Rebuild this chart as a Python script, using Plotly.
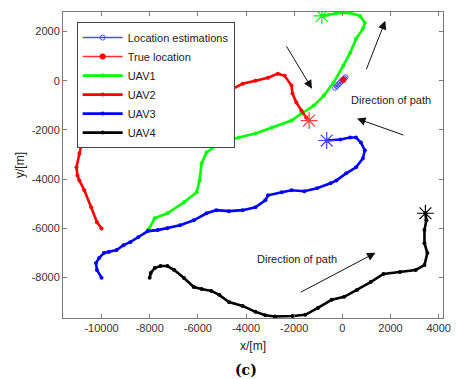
import plotly.graph_objects as go

# UAV trajectories (metres), start point first, final position last
uav1_x = [-8050, -7790, -7265, -6575, -6050, -5930, -5845, -5640, -5115, -4300, -3610, -2920,
          -2110, -1700, -1180, -770, -365, 40, 325, 570, 850, 935, 730, 325, -245, -850]
uav1_y = [-6050, -5590, -5385, -4940, -4535, -4050, -3360, -2915, -2550, -2310, -2145, -1900,
          -1620, -1335, -1010, -605, -80, 610, 1130, 1700, 2105, 2350, 2630, 2760, 2740, 2630]

uav2_x = [-10000, -10190, -10430, -10715, -10920, -11000, -11040, -10920, -10800, -10630, -10390,
          -10190, -9700, -8890, -7670, -6450, -5440, -4545, -4140, -3610, -3085, -2680, -2395,
          -2110, -2070, -1910, -1700, -1500, -1380]
uav2_y = [-6000, -5750, -5140, -4450, -4050, -3850, -3520, -2955, -2430, -2145, -1940,
          -1820, -1540, -1130, -810, -610, -445, -325, -120, 0, 120, 285, 200,
          -200, -525, -890, -1215, -1500, -1620]

uav3_x = [-10000, -10190, -10230, -10100, -9900, -9700, -9375, -9090, -8810, -8480, -8080, -7670,
          -7265, -6740, -6170, -5640, -5235, -4710, -4140, -3610, -3200, -3085, -2515, -2110,
          -1580, -1055, -490, -245, 160, 570, 850, 935, 770, 570, 325, -80, -650]
uav3_y = [-8000, -7690, -7410, -7200, -7000, -6960, -6880, -6680, -6560, -6360, -6110, -6070,
          -5990, -5870, -5670, -5385, -5260, -5300, -5260, -5140, -4860, -4655, -4535, -4450,
          -4490, -4370, -4170, -4050, -3765, -3520, -3160, -2830, -2510, -2310, -2310, -2390, -2430]

uav4_x = [-8000, -7955, -7790, -7550, -7265, -6980, -6575, -6170, -5845, -5440, -5115, -4710,
          -4140, -3610, -3200, -2800, -2070, -1540, -1015, -445, 80, 610, 1175, 1705, 2395,
          3045, 3410, 3530, 3410, 3410, 3490, 3450]
uav4_y = [-8000, -7810, -7610, -7530, -7530, -7690, -8015, -8380, -8460, -8540, -8700, -8990,
          -9150, -9390, -9530, -9580, -9560, -9510, -9230, -8900, -8780, -8500, -8180, -7850,
          -7770, -7690, -7490, -7000, -6600, -6070, -5670, -5385]

# Location estimates and the true emitter position
est_x = [-300, -230, -160, -100, -40, 20, 80, 130]
est_y = [-290, -220, -150, -90, -30, 30, 90, 140]
true_x = [40]
true_y = [40]

x_ticks = [-10000, -8000, -6000, -4000, -2000, 0, 2000, 4000]
x_tick_text = ["-10000", "-8000", "-6000", "-4000", "-2000", "0", "2000", "4000"]
y_ticks = [-8000, -6000, -4000, -2000, 0, 2000]
y_tick_text = ["-8000", "-6000", "-4000", "-2000", "0", "2000"]

GREEN, RED, BLUE, BLACK = "#00ff00", "#ff0000", "#0000ff", "#000000"

fig = go.Figure()

fig.add_trace(go.Scatter(x=est_x, y=est_y, name="Location estimations", mode="lines+markers",
                         line=dict(color="#4d4dff", width=1.5),
                         marker=dict(symbol="circle-open", size=5, color="#4d4dff")))
fig.add_trace(go.Scatter(x=true_x, y=true_y, name="True location", mode="lines+markers",
                         line=dict(color="#ff3030", width=1.5),
                         marker=dict(symbol="circle", size=6, color=RED)))

for name, xs, ys, col in [("UAV1", uav1_x, uav1_y, GREEN), ("UAV2", uav2_x, uav2_y, RED),
                          ("UAV3", uav3_x, uav3_y, BLUE), ("UAV4", uav4_x, uav4_y, BLACK)]:
    fig.add_trace(go.Scatter(x=xs, y=ys, name=name, mode="lines+markers",
                             line=dict(color=col, width=2.6),
                             marker=dict(symbol="circle", size=4, color=col)))

# final positions marked with an asterisk
for xs, ys, col in [(uav1_x, uav1_y, GREEN), (uav2_x, uav2_y, "#ff4040"),
                    (uav3_x, uav3_y, "#3f3fff"), (uav4_x, uav4_y, BLACK)]:
    fig.add_trace(go.Scatter(x=[xs[-1]], y=[ys[-1]], mode="markers", showlegend=False,
                             marker=dict(symbol="asterisk-open", size=14, color=col,
                                         line=dict(color=col, width=1.2))))

arrow = dict(xref="x", yref="y", axref="x", ayref="y", showarrow=True, text="",
             arrowhead=2, arrowsize=1.7, arrowwidth=1, arrowcolor="#111")
annotations = [
    dict(x=-1260, y=-325, ax=-2355, ay=1455, **arrow),
    dict(x=1785, y=2430, ax=975, ay=405, **arrow),
    dict(x=610, y=-1540, ax=2600, ay=-2230, **arrow),
    dict(x=1380, y=-6990, ax=-1785, ay=-8620, **arrow),
    dict(x=2030, y=-770, xref="x", yref="y", text="Direction of path", showarrow=False,
         font=dict(size=11, color="#222")),
    dict(x=-1870, y=-7250, xref="x", yref="y", text="Direction of path", showarrow=False,
         font=dict(size=11, color="#222")),
    dict(x=0.482, y=-0.17, xref="paper", yref="paper", yanchor="middle", text="<b>(c)</b>",
         showarrow=False, font=dict(family="DejaVu Serif", size=14, color="#000")),
]

axis_common = dict(showgrid=False, zeroline=False, showline=True, mirror="ticks",
                   linecolor="#7a7a7a", linewidth=1, ticks="inside", ticklen=4,
                   tickcolor="#7a7a7a", tickfont=dict(family="Arial", size=11, color="#333"))

fig.update_layout(
    width=462, height=379,
    margin=dict(l=63, r=11, t=12, b=61),
    paper_bgcolor="white", plot_bgcolor="white",
    font=dict(family="Arial", color="#222"),
    showlegend=True,
    legend=dict(x=0.036, y=0.967, xanchor="left", yanchor="top",
                bgcolor="white", bordercolor="#444", borderwidth=1,
                font=dict(family="Arial", size=11, color="#222"),
                tracegroupgap=0, itemwidth=40, entrywidth=108, entrywidthmode="pixels"),
    xaxis=dict(range=[-11600, 4180], tickvals=x_ticks, ticktext=x_tick_text,
               title=dict(text="x/[m]", font=dict(size=12, color="#222"), standoff=8),
               **axis_common),
    yaxis=dict(range=[-9640, 2790], tickvals=y_ticks, ticktext=y_tick_text,
               title=dict(text="y/[m]", font=dict(size=12, color="#222"), standoff=4),
               **axis_common),
    annotations=annotations,
)

fig.write_html("out.html")
